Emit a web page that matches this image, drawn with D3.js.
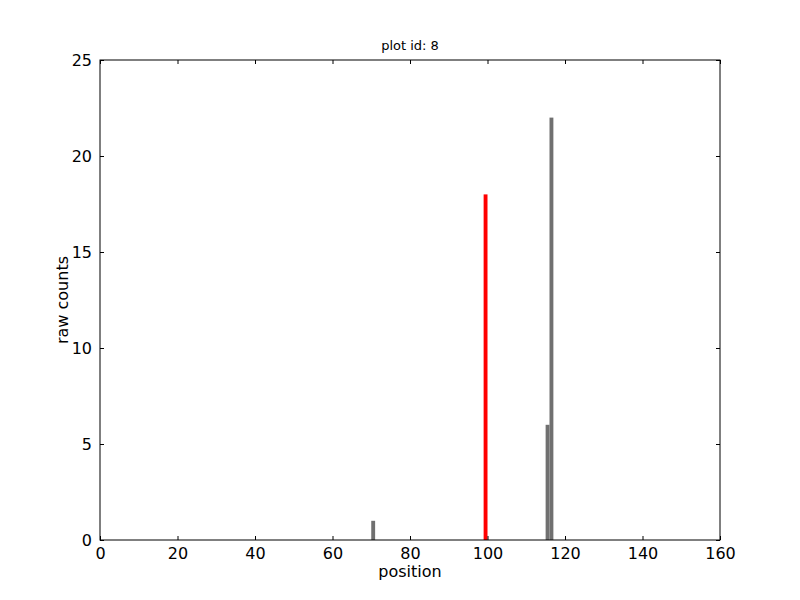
<!DOCTYPE html>
<html>
<head>
<meta charset="utf-8">
<script src="https://cdn.jsdelivr.net/npm/d3@7"></script>
<style>
  body { margin: 0; background: #fff; }
  text { font-family: "DejaVu Sans", sans-serif; fill: #000; }
</style>
</head>
<body>
<svg id="chart" width="800" height="600"></svg>
<script>
// bar data (left edge of each bin, count)
const grayPos = [70, 115, 116];
const grayCounts = [1, 6, 22];
const redPos = [99];
const redCounts = [18];
const xTicks = [0, 20, 40, 60, 80, 100, 120, 140, 160];
const yTicks = [0, 5, 10, 15, 20, 25];

const svg = d3.select("#chart");
const mLeft = 100, mRight = 720, mTop = 60, mBottom = 540;

const x = d3.scaleLinear().domain([0, 160]).range([mLeft, mRight]);
const y = d3.scaleLinear().domain([0, 25]).range([mBottom, mTop]);

svg.append("rect").attr("width", 800).attr("height", 600).attr("fill", "#fff");

// bars
const gray = grayPos.map((p, i) => ({ p: p, v: grayCounts[i] }));
const red = redPos.map((p, i) => ({ p: p, v: redCounts[i] }));

svg.append("g").selectAll("rect").data(gray).enter().append("rect")
  .attr("x", d => x(d.p))
  .attr("width", d => x(d.p + 1) - x(d.p))
  .attr("y", d => y(d.v))
  .attr("height", d => y(0) - y(d.v))
  .attr("fill", "#707070");

svg.append("g").selectAll("rect").data(red).enter().append("rect")
  .attr("x", d => x(d.p))
  .attr("width", d => x(d.p + 1) - x(d.p))
  .attr("y", d => y(d.v))
  .attr("height", d => y(0) - y(d.v))
  .attr("fill", "#ff0000");

// axes, ticks inward on all sides
const fs = "16px";
const xb = svg.append("g").attr("transform", `translate(0,${mBottom})`)
  .call(d3.axisBottom(x).tickValues(xTicks).tickSizeInner(-4).tickSizeOuter(0).tickPadding(8));
const xt = svg.append("g").attr("transform", `translate(0,${mTop})`)
  .call(d3.axisTop(x).tickValues(xTicks).tickSizeInner(-4).tickSizeOuter(0).tickFormat(""));
const yl = svg.append("g").attr("transform", `translate(${mLeft},0)`)
  .call(d3.axisLeft(y).tickValues(yTicks).tickSizeInner(-4).tickSizeOuter(0).tickPadding(8));
const yr = svg.append("g").attr("transform", `translate(${mRight},0)`)
  .call(d3.axisRight(y).tickValues(yTicks).tickSizeInner(-4).tickSizeOuter(0).tickFormat(""));

[xb, xt, yl, yr].forEach(g => {
  g.select(".domain").remove();
  g.selectAll("line").attr("stroke", "#000");
  g.selectAll("text").style("font-size", fs).attr("font-family", "DejaVu Sans");
});

svg.append("rect")
  .attr("x", mLeft).attr("y", mTop)
  .attr("width", mRight - mLeft).attr("height", mBottom - mTop)
  .attr("fill", "none").attr("stroke", "#000").attr("stroke-width", 1);

// labels
svg.append("text").attr("x", 410).attr("y", 50).attr("text-anchor", "middle")
  .style("font-size", "13px").text("plot id: 8");
svg.append("text").attr("x", 410).attr("y", 577).attr("text-anchor", "middle")
  .style("font-size", "16px").text("position");
svg.append("text").attr("transform", "translate(68,300) rotate(-90)").attr("text-anchor", "middle")
  .style("font-size", "16px").text("raw counts");
</script>
</body>
</html>
